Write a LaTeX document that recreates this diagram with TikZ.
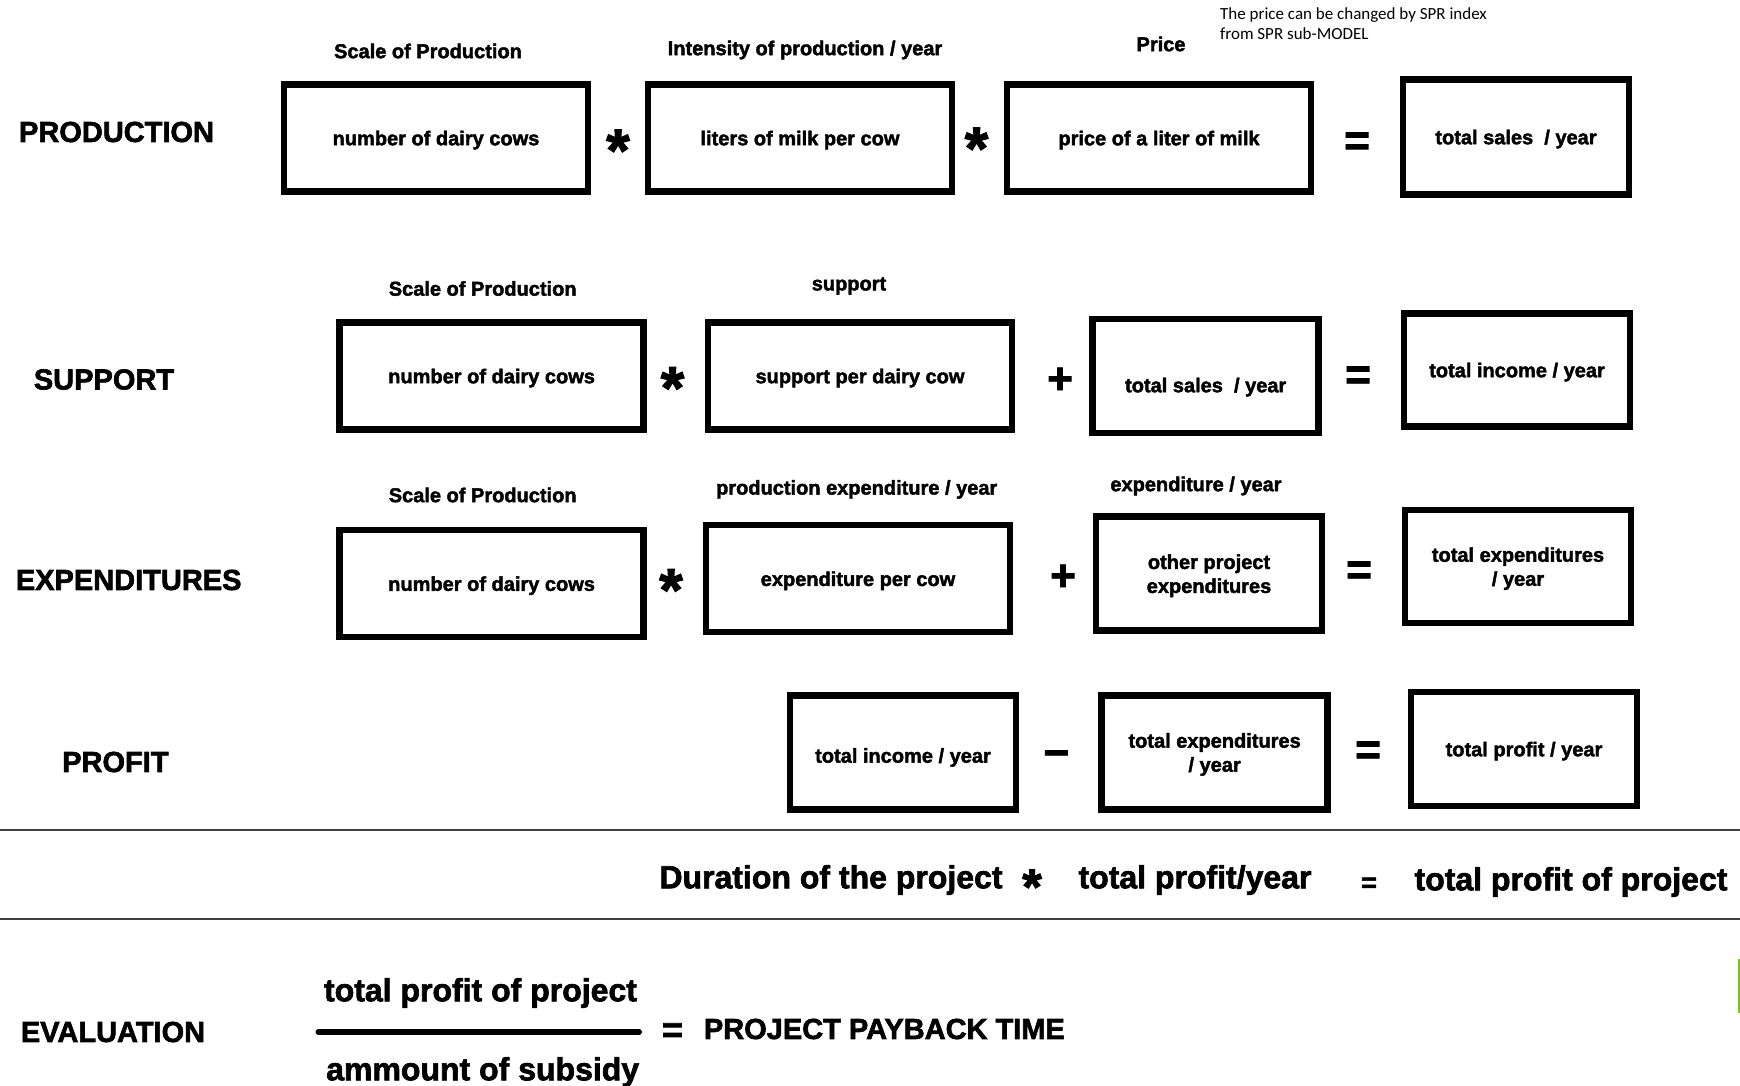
\documentclass[tikz,border=0pt]{standalone}
\usepackage{fontspec}
\setmainfont{Liberation Sans}[BoldFeatures={FakeBold=2}]
\newfontfamily\notefont{Carlito}
\usepackage{tikz}
\definecolor{edgegreen}{RGB}{118,196,44}
\tikzset{
  every node/.style={font=\bfseries\fontsize{20}{24}\selectfont},
  cell/.style={draw=black, line width=6.5pt, minimum width=304pt, minimum height=107pt, inner sep=0pt, align=center, text depth=0pt},
  cellsm/.style={cell, minimum width=226pt, minimum height=114pt},
  rowname/.style={font=\bfseries\fontsize{29}{34}\selectfont},
  bigtext/.style={font=\bfseries\fontsize{32}{38}\selectfont},
  op/.style={inner sep=0pt, anchor=base},
  opsign/.style={op, font=\bfseries\fontsize{44}{44}\selectfont, yshift=-15.5pt},
  opstar/.style={op, font=\bfseries\fontsize{60}{60}\selectfont, yshift=-29pt},
}
\newcommand{\lowered}[2]{\raisebox{-#1}[\height][\depth]{#2}}

\begin{document}
\begin{tikzpicture}[x=1pt, y=-1pt]
  \useasboundingbox[fill=white] (0,0) rectangle (1740,1086);

  \node[font=\notefont\fontsize{17}{20}\selectfont, align=left, anchor=north west, inner sep=0pt] (note) at (1220,7)
    {The price can be changed by SPR index\\from SPR sub-MODEL};

  \node[rowname] (PROD) at (116.5,132) {PRODUCTION};
  \node (PRODa) at (428,51) {Scale of Production};
  \node (PRODb) at (805,50) {Intensity of production / year};
  \node (PRODc) at (1161,44) {Price};
  \node[cell] (A) at (436,138) {number of dairy cows};
  \node[cell] (B) at (800,138) {liters of milk per cow};
  \node[cell] (C) at (1159,138) {price of a liter of milk};
  \node[cellsm, minimum height=115pt] (D) at (1516,137) {total sales~~/ year};
  \node[opstar] (AB) at (618,142) {*};
  \node[opstar] (BC) at (976.5,140) {*};
  \node[opsign] (CD) at (1357,140) {=};

  \node[rowname] (SUP) at (104,379.5) {SUPPORT};
  \node (SUPa) at (482.7,288.5) {Scale of Production};
  \node (SUPb) at (849,286) {support};
  \node[cell] (E) at (491.6,376) {number of dairy cows};
  \node[cell] (F) at (860,376) {support per dairy cow};
  \node[cellsm] (G) at (1205.7,376) {\lowered{9pt}{total sales~~/ year}};
  \node[cellsm, minimum height=113pt] (H) at (1517,370) {total income / year};
  \node[opstar] (EF) at (672.5,379.5) {*};
  \node[opsign] (FG) at (1060,378) {+};
  \node[opsign] (GH) at (1358,374) {=};

  \node[rowname] (EXP) at (128.7,580) {EXPENDITURES};
  \node (EXPa) at (482.7,495) {Scale of Production};
  \node (EXPb) at (856.7,489.4) {production expenditure / year};
  \node (EXPc) at (1196,486) {expenditure / year};
  \node[cell] (I) at (491.6,583.6) {number of dairy cows};
  \node[cell] (J) at (858,578.7) {expenditure per cow};
  \node[cellsm] (K) at (1209,573.7) {other project\\expenditures};
  \node[cellsm, minimum height=113pt] (L) at (1518,566.5) {total expenditures\\/ year};
  \node[opstar] (IJ) at (671,581.5) {*};
  \node[opsign] (JK) at (1063,575) {+};
  \node[opsign] (KL) at (1359,569) {=};

  \node[rowname] (PROF) at (115.4,762) {PROFIT};
  \node[cellsm] (M) at (903,752.4) {\lowered{3pt}{total income / year}};
  \node[cellsm] (N) at (1214.6,752.4) {total expenditures\\/ year};
  \node[cellsm] (O) at (1524,749) {total profit / year};
  \node[opsign] (MN) at (1056.4,752) {−};
  \node[opsign] (NO) at (1368,749) {=};

  \draw[line width=1.5pt, black!75] (0,830) -- (1740,830);
  \draw[line width=1.5pt, black!75] (0,919) -- (1740,919);

  \node[bigtext] (DUR) at (831,880) {Duration of the project};
  \node[op, font=\bfseries\fontsize{50}{50}\selectfont, yshift=-24pt] (DURop) at (1032,880) {*};
  \node[bigtext] (TPY) at (1195,880) {total profit/year};
  \node[op, font=\bfseries\fontsize{27}{27}\selectfont, yshift=-9.7pt] (TPYop) at (1369,882) {=};
  \node[bigtext] (TPP) at (1571,882) {total profit of project};

  \node[rowname] (EVAL) at (113,1032) {EVALUATION};
  \node[bigtext] (NUM) at (480.5,993) {total profit of project};
  \node[bigtext] (DEN) at (482.7,1072) {ammount of subsidy};
  \coordinate (barL) at (318.5,1032);
  \coordinate (barR) at (639,1032);
  \draw[line width=6pt, line cap=round] (barL) -- (barR);
  \node[op, font=\bfseries\fontsize{36}{36}\selectfont, yshift=-13pt] (EVALop) at (672.5,1029) {=};
  \node[rowname] (PAY) at (884.4,1029) {PROJECT PAYBACK TIME};

  \draw[edgegreen, line width=2pt] (1738.5,959) -- (1738.5,1013);
\end{tikzpicture}
\end{document}
